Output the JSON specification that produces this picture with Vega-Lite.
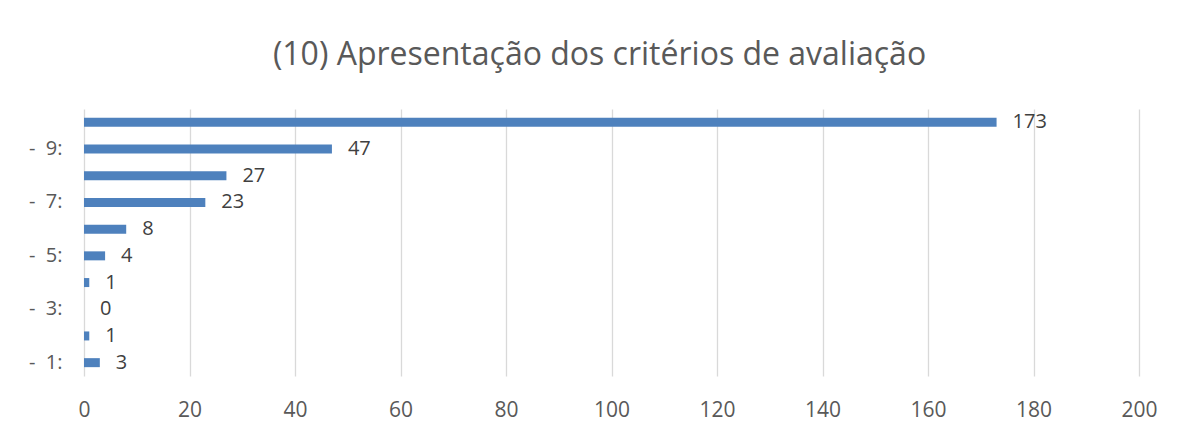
{
  "$schema": "https://vega.github.io/schema/vega-lite/v6.json",
  "width": 1055,
  "height": 267,
  "autosize": {"type": "none"},
  "padding": {"left": 84, "top": 109, "right": 39, "bottom": 54},
  "background": "white",
  "title": {
    "text": "(10) Apresentação dos critérios de avaliação",
    "font": "Open Sans",
    "fontSize": 32,
    "fontWeight": "normal",
    "color": "#595959",
    "anchor": "middle",
    "frame": "group",
    "dx": -12,
    "offset": 12,
    "baseline": "alphabetic"
  },
  "data": {
    "values": [
      {"categoria": "- 10:", "respostas": 173},
      {"categoria": "- 9:", "respostas": 47},
      {"categoria": "- 8:", "respostas": 27},
      {"categoria": "- 7:", "respostas": 23},
      {"categoria": "- 6:", "respostas": 8},
      {"categoria": "- 5:", "respostas": 4},
      {"categoria": "- 4:", "respostas": 1},
      {"categoria": "- 3:", "respostas": 0},
      {"categoria": "- 2:", "respostas": 1},
      {"categoria": "- 1:", "respostas": 3}
    ]
  },
  "encoding": {
    "y": {
      "field": "categoria",
      "type": "nominal",
      "sort": ["- 10:", "- 9:", "- 8:", "- 7:", "- 6:", "- 5:", "- 4:", "- 3:", "- 2:", "- 1:"],
      "scale": {"paddingInner": 0, "paddingOuter": 0},
      "axis": {
        "title": null,
        "values": ["- 9:", "- 7:", "- 5:", "- 3:", "- 1:"],
        "labelExpr": "replace(datum.label, ' ', '\u00a0\u00a0')",
        "ticks": false,
        "domain": false,
        "grid": false,
        "labelFont": "Open Sans",
        "labelFontSize": 20,
        "labelColor": "#595959",
        "labelPadding": 22
      }
    },
    "x": {
      "field": "respostas",
      "type": "quantitative",
      "scale": {"domain": [0, 200], "nice": false},
      "axis": {
        "title": null,
        "values": [0, 20, 40, 60, 80, 100, 120, 140, 160, 180, 200],
        "ticks": false,
        "domain": false,
        "grid": true,
        "gridColor": "#d9d9d9",
        "gridWidth": 1.3,
        "labelFont": "Open Sans",
        "labelFontSize": 21,
        "labelColor": "#595959",
        "labelPadding": 23,
        "labelFlush": false
      }
    }
  },
  "layer": [
    {"mark": {"type": "bar", "size": 9, "color": "#4e81bd"}},
    {
      "mark": {"type": "text", "align": "left", "baseline": "middle", "dx": 16, "font": "Open Sans", "fontSize": 20, "color": "#404040"},
      "encoding": {"text": {"field": "respostas", "type": "quantitative"}}
    }
  ],
  "config": {"view": {"stroke": null}}
}
